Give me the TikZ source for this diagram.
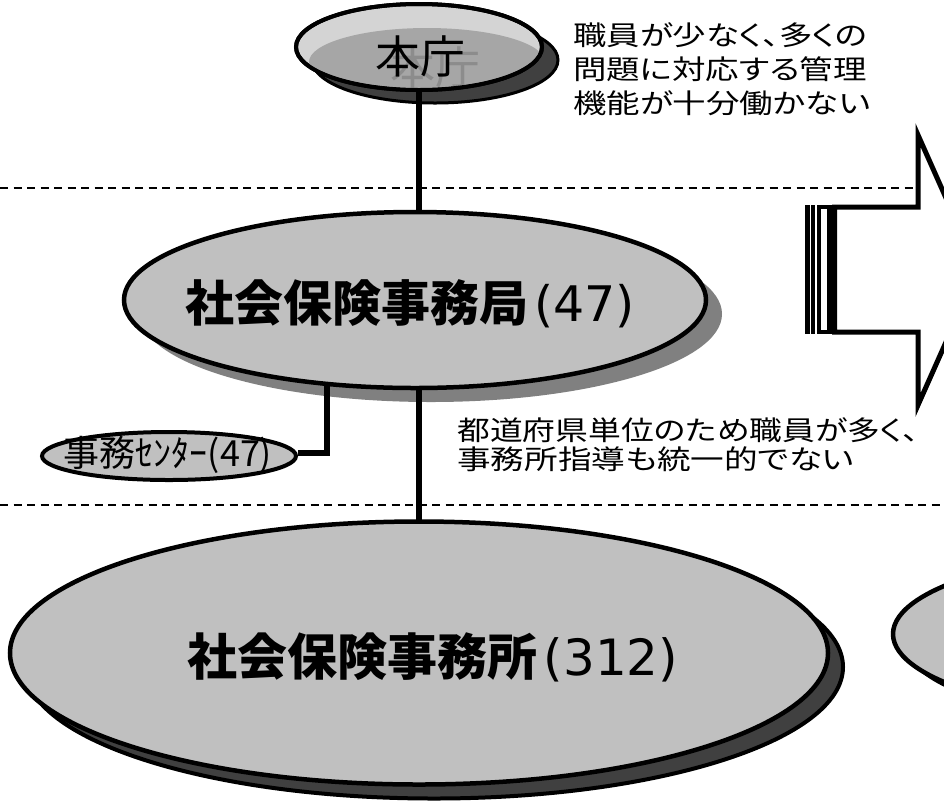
\documentclass[tikz,border=0pt]{standalone}
\usepackage{fontspec}
\setmainfont{Noto Sans CJK JP}[RawFeature=+palt]
\newfontfamily\numfont{DejaVu Sans}
\usetikzlibrary{shapes.geometric,backgrounds}
\definecolor{fillgray}{RGB}{192,192,192}
\definecolor{shadowmid}{RGB}{128,128,128}
\definecolor{shadowdark}{RGB}{64,64,64}
\definecolor{rimgray}{RGB}{212,212,212}
\definecolor{innergray}{RGB}{166,166,166}
\definecolor{ghostgray}{RGB}{140,140,140}
\pgfdeclarelayer{shadowlayer}
\pgfsetlayers{shadowlayer,background,main}
\begin{document}
\begin{tikzpicture}[x=1pt,y=-1pt,
  ell/.style={ellipse, draw=black, line width=4.5pt, fill=fillgray, inner sep=0pt},
  conn/.style={line width=6pt},
  dashline/.style={line width=1.5pt, dash pattern=on 8pt off 5.5pt},
  desc/.style={align=left, inner sep=0pt, anchor=west},
  shadowfill/.style={fill=shadowmid},
  shadowdraw/.style={draw=black, line width=4pt, fill=shadowdark}]
\useasboundingbox (0,0) rectangle (944,807);
\clip (0,0) rectangle (944,807);

% dashed separators
\draw[dashline] (0,188) -- (913,188);
\draw[dashline] (0,505) -- (944,505);

% ellipses
\node[ell, minimum width=246pt, minimum height=86pt, fill=rimgray, line width=4pt] (honcho) at (419,47) {};
\node[ell, minimum width=582pt, minimum height=176pt] (kyoku) at (415,300) {};
\node[ell, minimum width=254pt, minimum height=48pt, line width=4pt] (centre) at (169,456) {};
\node[ell, minimum width=818pt, minimum height=263pt] (jimusho) at (419,653) {};
\node[ell, minimum width=600pt, minimum height=172pt] (after) at (1193,634) {};

% shadows
\begin{pgfonlayer}{shadowlayer}
  \draw[shadowdraw, line width=3pt] ([xshift=16pt,yshift=-13pt]honcho.center) ellipse [x radius=123pt, y radius=43pt];
  \fill[shadowfill] ([xshift=16pt,yshift=-14pt]kyoku.center) ellipse [x radius=291pt, y radius=88pt];
  \draw[shadowdraw] ([xshift=15pt,yshift=-14pt]jimusho.center) ellipse [x radius=409pt, y radius=131.5pt];
  \draw[shadowdraw] ([xshift=12pt,yshift=-8pt]after.center) ellipse [x radius=300pt, y radius=86pt];
\end{pgfonlayer}

% connectors
\begin{pgfonlayer}{background}
  \draw[conn] (honcho.center) -- (honcho.center |- kyoku.center);
  \draw[conn] (jimusho.center |- kyoku.center) -- (jimusho.center);
  \draw[conn] ([xshift=-88pt]kyoku.center) |- ([yshift=3pt]centre.east);
\end{pgfonlayer}

% top ellipse inner relief
\begin{scope}
  \clip (honcho.center) ellipse [x radius=121pt, y radius=41pt];
  \fill[innergray] ([xshift=8pt,yshift=-15pt]honcho.center) ellipse [x radius=118pt, y radius=34pt];
\end{scope}
\node[font=\fontsize{45}{50}\selectfont, text=ghostgray, inner sep=0pt] (honchoghost) at (435,67) {本庁};
\node[font=\fontsize{45}{50}\selectfont, inner sep=0pt] (honchotext) at (420,56) {本庁};
\draw[line width=4pt] (honcho.center) ellipse [x radius=123pt, y radius=43pt];

% labels
\node[inner sep=0pt] (kyokutext) at (410,304) {\fontsize{49}{55}\selectfont\bfseries 社会保険事務局\mdseries\hspace{6pt}{\numfont(47)}};
\node[inner sep=0pt] (jimushotext) at (433,657) {\fontsize{50}{56}\selectfont\bfseries 社会保険事務所\mdseries\hspace{6pt}{\numfont(312)}};
\node[inner sep=0pt] (centretext) at (168,455) {\fontsize{36}{40}\selectfont 事務ｾﾝﾀｰ(47)};

% notes
\node[desc, font=\fontsize{27}{34}\selectfont] (note1) at (573,69)
  {\scalebox{1.24}[1]{職員が少なく、多くの}\\\scalebox{1.24}[1]{問題に対応する管理}\\\scalebox{1.24}[1]{機能が十分働かない}};
\node[desc, font=\fontsize{27}{29}\selectfont] (note2) at (457,445)
  {\scalebox{1.215}[1]{都道府県単位のため職員が多く、}\\\scalebox{1.245}[1]{事務所指導も統一的でない}};

% block arrow
\fill (805,205) rectangle (815,334);
\draw[white, line width=0.8pt] (810,205) -- (810,334);
\draw[line width=4.5pt, fill=white] (819,207) rectangle (829.5,332);
\draw[line width=5pt, fill=white, line join=miter] (834.5,207) -- (918,207) -- (918,135) -- (978,270) -- (918,405) -- (918,332) -- (834.5,332) -- cycle;
\end{tikzpicture}
\end{document}
